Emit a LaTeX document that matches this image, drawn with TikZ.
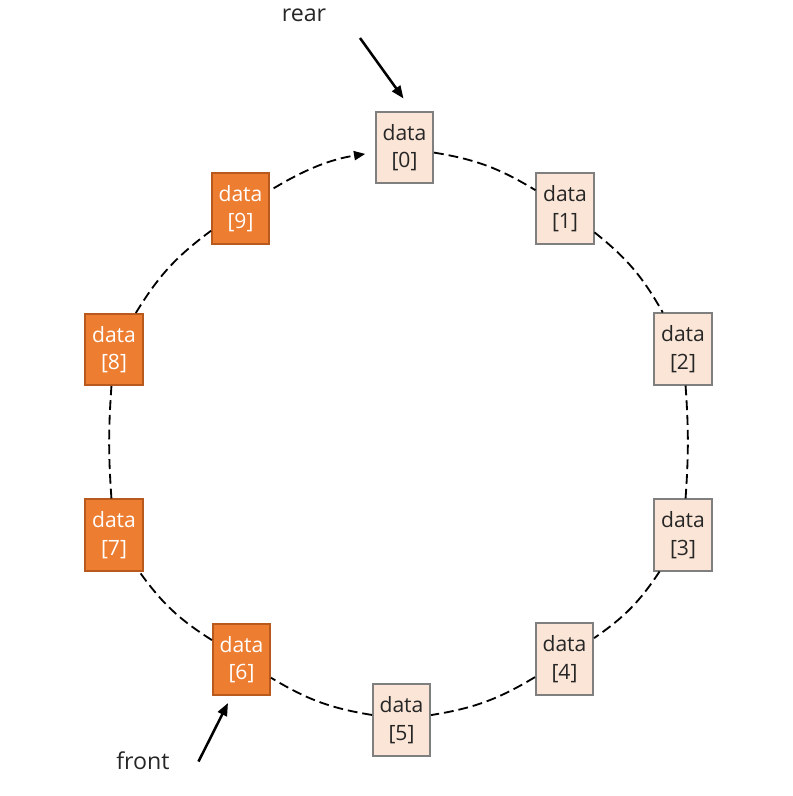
\documentclass[tikz,border=0pt]{standalone}
\usepackage{fontspec}
\setmainfont{Open Sans}
\usepackage{xcolor}
\usepackage{tikz}
\usetikzlibrary{arrows.meta}

\definecolor{paleorange}{HTML}{FBE5D6}
\definecolor{boxgray}{HTML}{7F7F7F}
\definecolor{deeporange}{HTML}{ED7D31}
\definecolor{deepborder}{HTML}{B85A1E}

\begin{document}
\begin{tikzpicture}[
        x=0.025cm, y=-0.025cm,
        light/.style={rectangle, draw=boxgray, fill=paleorange, line width=1.3pt, text=black!85, minimum width=1.43cm, minimum height=1.78cm, inner sep=0pt, align=center, font=\fontsize{15}{19.5}\selectfont},
        dark/.style={light, draw=deepborder, fill=deeporange, text=white},
        ring/.style={line width=1.3pt, dash pattern=on 7pt off 3.5pt},
        ringarrow/.style={ring, -{Triangle[length=8pt, width=6.5pt]}, shorten >=7pt, shorten <=3pt},
        arrow/.style={-{Triangle[length=9pt, width=7pt]}, line width=1.8pt},
        ptrtext/.style={font=\fontsize{16.5}{20}\selectfont, text=black!85}
    ]
    \useasboundingbox (0,0) rectangle (793,796);

    % 空闲单元
    \node[light] (d0) at (404.5,147.5) {data\\{[0]}};
    \node[light] (d1) at (565,208.5) {data\\{[1]}};
    \node[light] (d2) at (683,349) {data\\{[2]}};
    \node[light] (d3) at (683,535) {data\\{[3]}};
    \node[light] (d4) at (564.5,659) {data\\{[4]}};
    \node[light] (d5) at (401.5,720) {data\\{[5]}};

    % 已占用单元
    \node[dark] (d6) at (241.5,659.5) {data\\{[6]}};
    \node[dark] (d7) at (114,535) {data\\{[7]}};
    \node[dark] (d8) at (114,349.5) {data\\{[8]}};
    \node[dark] (d9) at (240.5,208.5) {data\\{[9]}};

    % 环形连接
    \draw[ring] (d0) to[bend left=11] (d1);
    \draw[ring] (d1) to[bend left=11] (d2);
    \draw[ring] (d2) to[bend left=4] (d3);
    \draw[ring] (d3) to[bend left=11] (d4);
    \draw[ring] (d4) to[bend left=11] (d5);
    \draw[ring] (d5) to[bend left=11] (d6);
    \draw[ring] (d6) to[bend left=11] (d7);
    \draw[ring] (d7) to[bend left=4] (d8);
    \draw[ring] (d8) to[bend left=11] (d9);
    \draw[ringarrow] (d9) to[bend left=11] (d0);

    % 队尾与队头指针
    \node[ptrtext] (rear) at (304,15) {rear};
    \coordinate (rear_from) at (360,38);
    \coordinate (rear_to) at (403.5,98.5);
    \draw[arrow] (rear_from) -- (rear_to);

    \node[ptrtext] (front) at (143,761) {front};
    \coordinate (front_from) at (198.5,761.5);
    \coordinate (front_to) at (228,703);
    \draw[arrow] (front_from) -- (front_to);

\end{tikzpicture}
\end{document}
